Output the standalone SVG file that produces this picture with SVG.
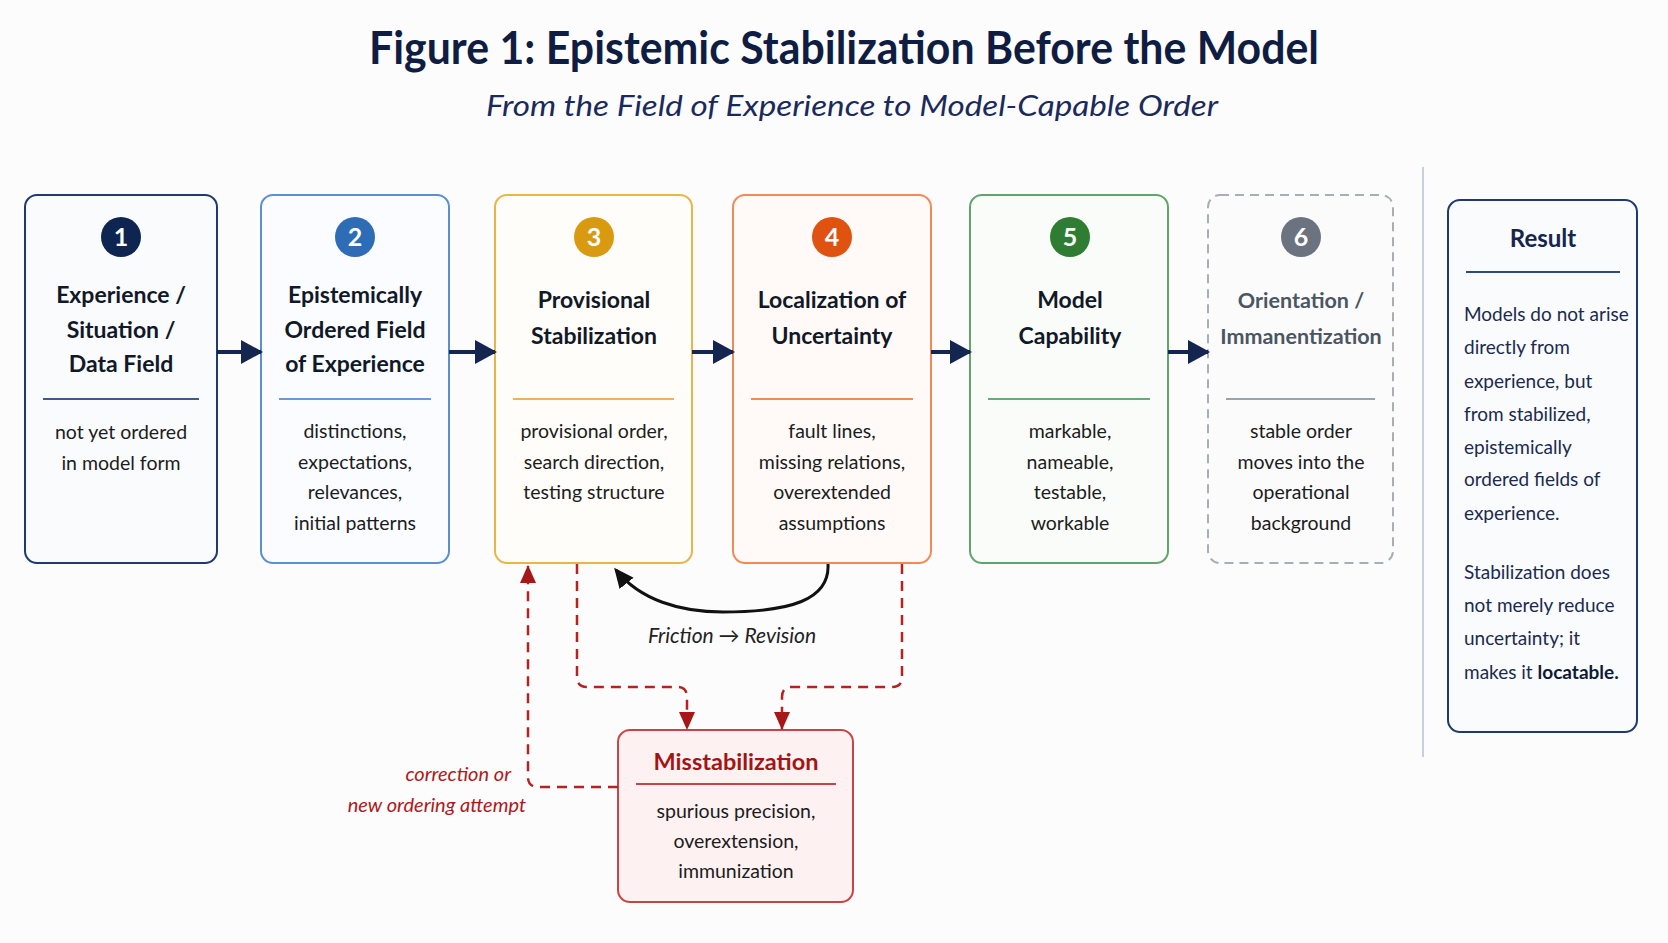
<svg xmlns="http://www.w3.org/2000/svg" width="1668" height="943" viewBox="0 0 1668 943">
<defs>
<style>
text{font-family:Lato,"Open Sans","Liberation Sans",sans-serif}
.ttl{font-weight:700;font-size:23px;fill:#111827;text-anchor:middle}
.bd{font-size:19.5px;fill:#1c1c1c;text-anchor:middle}
.num{font-weight:700;font-size:25px;fill:#fff;text-anchor:middle}
.box{stroke-width:2}
.div{stroke-width:2}
.flow{stroke:#142550;stroke-width:4;fill:none}
.red{stroke:#b5221f;stroke-width:2.5;fill:none;stroke-dasharray:10 7}
</style>
<marker id="ah" markerUnits="userSpaceOnUse" markerWidth="22" markerHeight="24" refX="20" refY="12" orient="auto">
<path d="M0,0 L22,12 L0,24 Z" fill="#142550"/>
</marker>
<marker id="ahk" markerUnits="userSpaceOnUse" markerWidth="20" markerHeight="20" refX="17" refY="10" orient="auto">
<path d="M0,1 L20,10 L0,19 Z" fill="#111"/>
</marker>
<marker id="ahr" markerUnits="userSpaceOnUse" markerWidth="18" markerHeight="18" refX="17" refY="9" orient="auto">
<path d="M0,1 L18,9 L0,17 Z" fill="#a81717"/>
</marker>
</defs>
<rect width="1668" height="943" fill="#fcfcfd"/>

<g id="header">
<text x="844" y="64" text-anchor="middle" font-weight="700" font-size="46" fill="#0f1d42" textLength="950" lengthAdjust="spacingAndGlyphs">Figure 1: Epistemic Stabilization Before the Model</text>
<text x="852" y="116" text-anchor="middle" font-style="italic" font-size="28" fill="#1a2a5c" textLength="732" lengthAdjust="spacingAndGlyphs">From the Field of Experience to Model-Capable Order</text>
</g>

<line x1="1423" y1="167" x2="1423" y2="757" stroke="#b9c1cf" stroke-width="1.5"/>

<g id="node1">
<rect class="box" x="25" y="195" width="192" height="368" rx="12" fill="#fafbfd" stroke="#1f3a6e"/>
<circle cx="121" cy="237" r="20" fill="#0d2550"/>
<text class="num" x="121" y="246">1</text>
<text class="ttl" x="121" y="303">Experience /</text>
<text class="ttl" x="121" y="338">Situation /</text>
<text class="ttl" x="121" y="372">Data Field</text>
<line class="div" x1="43" y1="399" x2="199" y2="399" stroke="#3d5a8a"/>
<text class="bd" x="121" y="439">not yet ordered</text>
<text class="bd" x="121" y="470">in model form</text>
</g>

<g id="node2">
<rect class="box" x="261" y="195" width="188" height="368" rx="12" fill="#fafcff" stroke="#5b8fd0"/>
<circle cx="355" cy="237" r="20" fill="#2e6cb5"/>
<text class="num" x="355" y="246">2</text>
<text class="ttl" x="355" y="303">Epistemically</text>
<text class="ttl" x="355" y="338">Ordered Field</text>
<text class="ttl" x="355" y="372">of Experience</text>
<line class="div" x1="279" y1="399" x2="431" y2="399" stroke="#6b9bd6"/>
<text class="bd" x="355" y="438">distinctions,</text>
<text class="bd" x="355" y="469">expectations,</text>
<text class="bd" x="355" y="499">relevances,</text>
<text class="bd" x="355" y="530">initial patterns</text>
</g>

<g id="node3">
<rect class="box" x="495" y="195" width="197" height="368" rx="12" fill="#fffdf9" stroke="#e8b548"/>
<circle cx="594" cy="237" r="20" fill="#d99a12"/>
<text class="num" x="594" y="246">3</text>
<text class="ttl" x="594" y="308">Provisional</text>
<text class="ttl" x="594" y="344">Stabilization</text>
<line class="div" x1="513" y1="399" x2="674" y2="399" stroke="#e9b25e"/>
<text class="bd" x="594" y="438">provisional order,</text>
<text class="bd" x="594" y="469">search direction,</text>
<text class="bd" x="594" y="499">testing structure</text>
</g>

<g id="node4">
<rect class="box" x="733" y="195" width="198" height="368" rx="12" fill="#fffaf7" stroke="#f08a5a"/>
<circle cx="832" cy="237" r="20" fill="#e0520f"/>
<text class="num" x="832" y="246">4</text>
<text class="ttl" x="832" y="308">Localization of</text>
<text class="ttl" x="832" y="344">Uncertainty</text>
<line class="div" x1="751" y1="399" x2="913" y2="399" stroke="#ee8a5e"/>
<text class="bd" x="832" y="438">fault lines,</text>
<text class="bd" x="832" y="469">missing relations,</text>
<text class="bd" x="832" y="499">overextended</text>
<text class="bd" x="832" y="530">assumptions</text>
</g>

<g id="node5">
<rect class="box" x="970" y="195" width="198" height="368" rx="12" fill="#fafcfa" stroke="#62a56c"/>
<circle cx="1070" cy="237" r="20" fill="#2e7d32"/>
<text class="num" x="1070" y="246">5</text>
<text class="ttl" x="1070" y="308">Model</text>
<text class="ttl" x="1070" y="344">Capability</text>
<line class="div" x1="988" y1="399" x2="1150" y2="399" stroke="#6aaa74"/>
<text class="bd" x="1070" y="438">markable,</text>
<text class="bd" x="1070" y="469">nameable,</text>
<text class="bd" x="1070" y="499">testable,</text>
<text class="bd" x="1070" y="530">workable</text>
</g>

<g id="node6">
<rect x="1208" y="195" width="185" height="368" rx="12" fill="#fbfbfc" stroke="#a9aeb6" stroke-width="2" stroke-dasharray="9 6"/>
<circle cx="1301" cy="237" r="20" fill="#6b7280"/>
<text class="num" x="1301" y="246">6</text>
<text class="ttl" x="1301" y="308" style="fill:#4b5563;font-size:21.5px">Orientation /</text>
<text class="ttl" x="1301" y="344" style="fill:#4b5563;font-size:21.5px">Immanentization</text>
<line class="div" x1="1226" y1="399" x2="1375" y2="399" stroke="#9ca3ad"/>
<text class="bd" x="1301" y="438">stable order</text>
<text class="bd" x="1301" y="469">moves into the</text>
<text class="bd" x="1301" y="499">operational</text>
<text class="bd" x="1301" y="530">background</text>
</g>

<g id="result">
<rect class="box" x="1448" y="200" width="189" height="532" rx="12" fill="#fafbfd" stroke="#1f3a6e"/>
<text x="1543" y="247" text-anchor="middle" font-weight="700" font-size="24" fill="#15254d">Result</text>
<line class="div" x1="1466" y1="272" x2="1620" y2="272" stroke="#2c4a80"/>
<g font-size="19" fill="#1b2a4e">
<text x="1464" y="321">Models do not arise</text>
<text x="1464" y="354">directly from</text>
<text x="1464" y="388">experience, but</text>
<text x="1464" y="421">from stabilized,</text>
<text x="1464" y="454">epistemically</text>
<text x="1464" y="486">ordered fields of</text>
<text x="1464" y="520">experience.</text>
<text x="1464" y="579">Stabilization does</text>
<text x="1464" y="612">not merely reduce</text>
<text x="1464" y="645">uncertainty; it</text>
<text x="1464" y="679">makes it <tspan font-weight="700" fill="#0f1a36">locatable.</tspan></text>
</g>
</g>

<g id="misstabilization">
<rect x="618" y="730" width="235" height="172" rx="12" fill="#fdf1f1" stroke="#c94444" stroke-width="2"/>
<text x="736" y="770" text-anchor="middle" font-weight="700" font-size="23.5" fill="#a31515">Misstabilization</text>
<line x1="636" y1="784" x2="836" y2="784" stroke="#c94444" stroke-width="2"/>
<text class="bd" x="736" y="818">spurious precision,</text>
<text class="bd" x="736" y="848">overextension,</text>
<text class="bd" x="736" y="878">immunization</text>
</g>

<g id="connectors">
<line class="flow" x1="217" y1="352" x2="261" y2="352" marker-end="url(#ah)"/>
<line class="flow" x1="449" y1="352" x2="495" y2="352" marker-end="url(#ah)"/>
<line class="flow" x1="692" y1="352" x2="733" y2="352" marker-end="url(#ah)"/>
<line class="flow" x1="931" y1="352" x2="970" y2="352" marker-end="url(#ah)"/>
<line class="flow" x1="1168" y1="352" x2="1208" y2="352" marker-end="url(#ah)"/>
<path d="M828,564 C830,600 790,612 723,612 C680,612 640,600 616,570" fill="none" stroke="#111" stroke-width="3" marker-end="url(#ahk)"/>
<text x="732" y="643" text-anchor="middle" font-style="italic" font-size="21" fill="#222">Friction → Revision</text>
<path class="red" d="M577,564 V677 Q577,687 587,687 H677 Q687,687 687,697 V729" marker-end="url(#ahr)"/>
<path class="red" d="M902,564 V677 Q902,687 892,687 H792 Q782,687 782,697 V729" marker-end="url(#ahr)"/>
<path class="red" d="M618,787 H538 Q528,787 528,777 V566" marker-end="url(#ahr)"/>
<text x="511" y="781" text-anchor="end" font-style="italic" font-size="20" fill="#b01818">correction or</text>
<text x="526" y="812" text-anchor="end" font-style="italic" font-size="20" fill="#b01818">new ordering attempt</text>
</g>
</svg>
